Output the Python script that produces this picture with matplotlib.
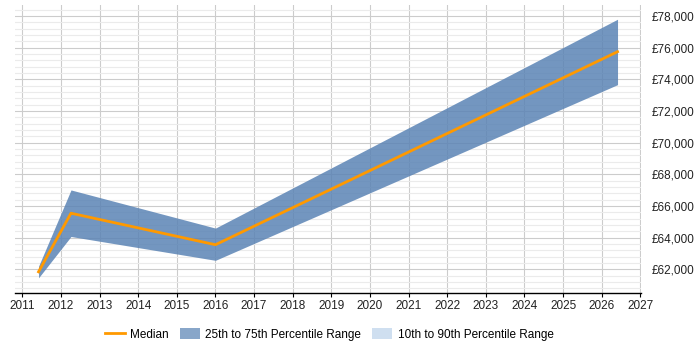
import matplotlib
matplotlib.use("Agg")
import matplotlib.pyplot as plt
from matplotlib.ticker import MultipleLocator, FuncFormatter
from matplotlib.patches import Patch
from matplotlib.lines import Line2D

plt.rcParams["font.family"] = ["Liberation Sans", "DejaVu Sans"]

years = [2011.42, 2012.26, 2016.0, 2026.41]
median = [61840, 65540, 63550, 75740]
p25 = [61460, 64070, 62565, 73660]
p75 = [62190, 67010, 64600, 77790]

fig = plt.figure(figsize=(7, 3.5), dpi=100)
ax = fig.add_axes([0.0214, 0.1637, 0.895, 0.822])

ax.fill_between(years, p25, p75, color="#5b84b5", alpha=0.85, linewidth=0, zorder=2)
ax.plot(years, median, color="#ff9900", linewidth=2, zorder=3)

ax.set_xlim(2010.81, 2027.03)
ax.set_ylim(60520, 78690)
ax.xaxis.set_major_locator(MultipleLocator(1))
ax.yaxis.set_major_locator(MultipleLocator(2000))
ax.yaxis.set_minor_locator(MultipleLocator(400))
ax.xaxis.set_major_formatter(FuncFormatter(lambda v, p: f"{int(round(v))}"))
ax.yaxis.set_major_formatter(FuncFormatter(lambda v, p: f"£{int(v):,}"))
ax.yaxis.tick_right()
ax.tick_params(axis="y", which="both", length=0, labelsize=8.5, pad=7, labelcolor="#222222")
ax.tick_params(axis="x", length=3, labelsize=8.5, color="#000000", labelcolor="#222222", pad=2.5)
ax.grid(axis="x", which="major", color="#cccccc", linewidth=0.8, zorder=0)
ax.grid(axis="y", which="major", color="#cccccc", linewidth=0.8, zorder=0)
ax.grid(axis="y", which="minor", color="#ebebeb", linewidth=0.8, zorder=0)
ax.set_axisbelow(True)
for s in ["top", "right", "left"]:
    ax.spines[s].set_visible(False)
ax.spines["bottom"].set_color("#000000")
ax.spines["bottom"].set_linewidth(1)

handles = [
    Line2D([0], [0], color="#ff9900", linewidth=2),
    Patch(facecolor="#88a6c9", edgecolor="none"),
    Patch(facecolor="#cfdff0", edgecolor="none"),
]
labels = ["Median", "25th to 75th Percentile Range", "10th to 90th Percentile Range"]
fig.legend(handles, labels, loc="center", bbox_to_anchor=(0.47, 0.045), ncol=3,
           frameon=False, fontsize=8.5, handlelength=1.7, handleheight=1.1,
           columnspacing=0.95, handletextpad=0.45)

fig.savefig("out.png", dpi=100)
